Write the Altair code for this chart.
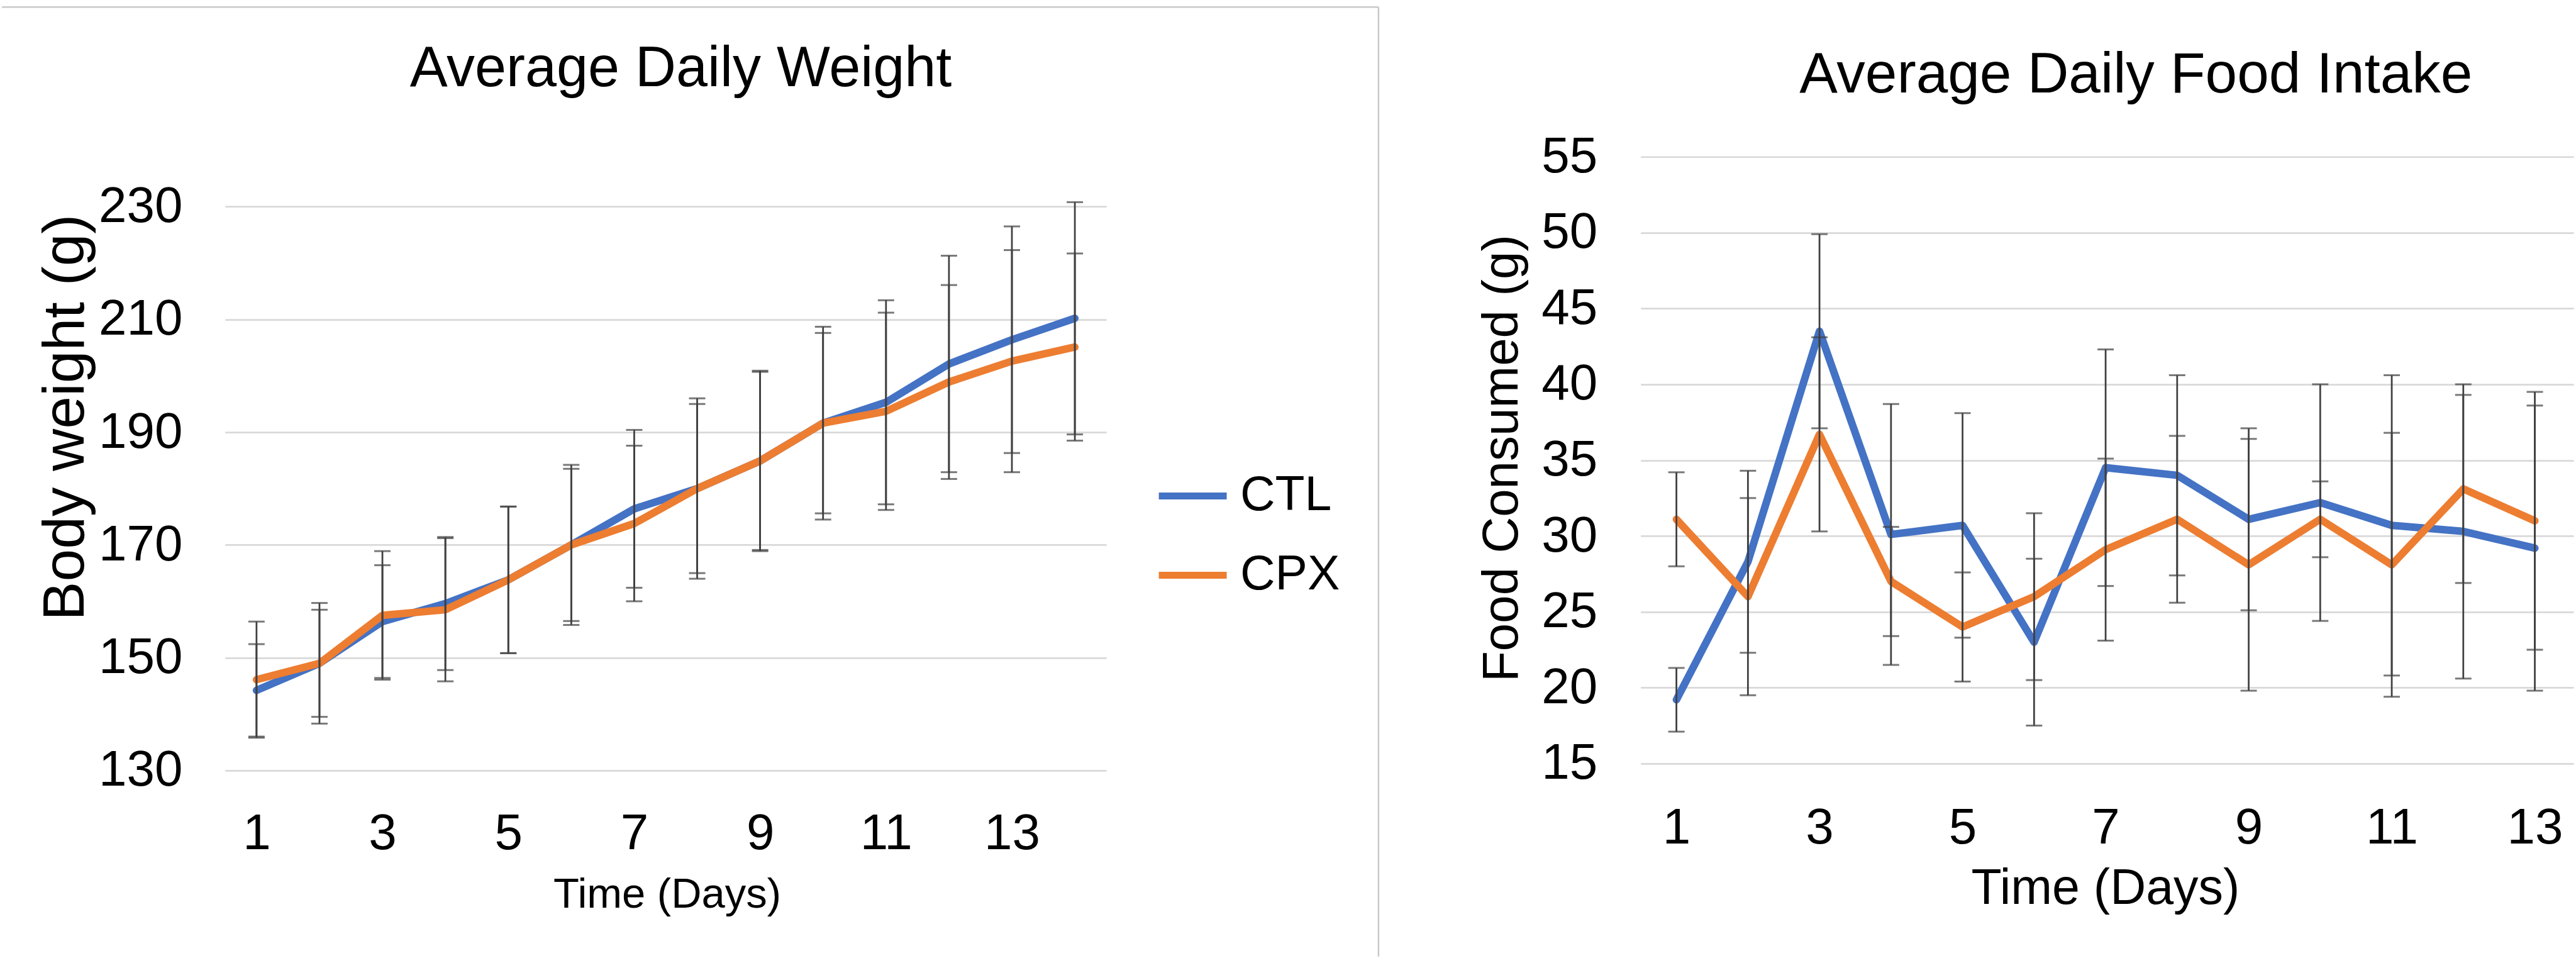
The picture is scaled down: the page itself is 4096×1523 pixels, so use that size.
import altair as alt
import pandas as pd

# ---------------- data ----------------
groups = ["CTL", "CPX"]

days_weight = list(range(1, 15))
ctl_weight = [144.2, 149.0, 156.4, 159.6, 163.8, 170.0, 176.4, 180.0, 184.9, 191.6, 195.3, 202.1, 206.4, 210.2]
cpx_weight = [146.1, 149.0, 157.5, 158.5, 163.8, 170.0, 173.8, 180.0, 184.9, 191.6, 193.7, 198.9, 202.6, 205.1]
ctl_weight_err = [8.2, 10.7, 10.0, 11.8, 13.0, 13.5, 14.0, 16.0, 16.0, 17.1, 18.1, 19.2, 20.1, 20.6]
cpx_weight_err = [10.3, 9.5, 11.4, 12.7, 13.0, 14.2, 13.8, 15.0, 15.8, 16.0, 17.5, 17.2, 19.7, 16.6]

days_food = list(range(1, 14))
ctl_food = [19.2, 28.3, 43.5, 30.1, 30.7, 23.0, 34.5, 34.0, 31.1, 32.2, 30.7, 30.3, 29.2]
cpx_food = [31.1, 26.0, 36.7, 27.0, 24.0, 26.0, 29.1, 31.1, 28.1, 31.1, 28.1, 33.1, 31.0]
ctl_food_err = [2.1, 6.0, 6.4, 8.6, 7.4, 5.5, 7.8, 6.6, 6.0, 7.8, 9.9, 9.7, 9.4]
cpx_food_err = [3.1, 6.5, 6.4, 3.6, 3.6, 5.5, 6.0, 5.5, 8.3, 2.5, 8.7, 6.2, 8.5]

weight_ticks = [130, 150, 170, 190, 210, 230]
food_ticks = [15, 20, 25, 30, 35, 40, 45, 50, 55]
day_ticks = [1, 3, 5, 7, 9, 11, 13]

title_weight = "Average Daily Weight"
title_food = "Average Daily Food Intake"

# ---------------- styling / layout ----------------
FONT = "Liberation Sans"
BLUE = "#4472C4"
ORANGE = "#ED7D31"
EB = "#404040"
GRID = "#d9d9d9"
BORDER = "#c9c9c9"

CANVAS_W, CANVAS_H = 4096, 1523
OX1, OY1 = 357, 248          # left plot origin on canvas
W1, H1 = 1402, 976
OX2 = 2609                   # right plot origin on canvas
W2, H2 = 1484, 965
SPACING = OX2 - (OX1 + W1)


def long_df(days, ctl, cpx, ctl_e, cpx_e):
    rows = []
    for g, m, e in (("CTL", ctl, ctl_e), ("CPX", cpx, cpx_e)):
        for d, v, err in zip(days, m, e):
            rows.append({"day": d, "group": g, "mean": v, "lo": v - err, "hi": v + err})
    return pd.DataFrame(rows)


wdf = long_df(days_weight, ctl_weight, cpx_weight, ctl_weight_err, cpx_weight_err)
fdf = long_df(days_food, ctl_food, cpx_food, ctl_food_err, cpx_food_err)
one = pd.DataFrame({"k": [0]})


def x_axis(title, title_size, title_x, title_y, label_pad):
    return alt.Axis(values=day_ticks, format="d", grid=False, domain=False, ticks=False,
                    labelFont=FONT, labelFontSize=80, labelColor="black", labelPadding=label_pad,
                    labelFlush=False, labelOverlap=False,
                    title=title, titleFont=FONT, titleFontSize=title_size, titleFontWeight="normal",
                    titleColor="black", titleBaseline="alphabetic", titleAlign="center",
                    titleX=title_x, titleY=title_y)


def y_axis(values, title, title_size, title_x, title_y, label_pad):
    return alt.Axis(values=values, grid=True, gridColor=GRID, gridWidth=2.75, domain=False, ticks=False,
                    labelFont=FONT, labelFontSize=80, labelColor="black", labelPadding=label_pad,
                    labelOverlap=False,
                    title=title, titleFont=FONT, titleFontSize=title_size, titleFontWeight="normal",
                    titleColor="black", titleAngle=270, titleBaseline="alphabetic", titleAlign="center",
                    titleX=title_x, titleY=title_y)


# ---------------- left panel ----------------
xs1 = alt.Scale(domain=[0.5, 14.5], nice=False, zero=False)
ys1 = alt.Scale(domain=[130, 238.85], nice=False, zero=False)
xa1 = x_axis("Time (Days)", 67, W1 / 2 + 2, 218, 62)
ya1 = y_axis(weight_ticks, "Body weight (g)", 93, -225, 414, 68)
X1 = alt.X("day:Q", scale=xs1, axis=xa1)

legend1 = alt.Legend(title=None, orient="none", legendX=1480, legendY=480, symbolType="stroke",
                     symbolSize=11664, symbolStrokeWidth=11, labelFont=FONT, labelFontSize=77,
                     labelColor="black", labelOffset=16, rowPadding=28, padding=0)
color1 = alt.Color("group:N", scale=alt.Scale(domain=groups, range=[BLUE, ORANGE]), legend=legend1)

anchor = alt.Chart(one).mark_rect(opacity=0).encode(
    x=alt.value(-OX1), x2=alt.value(CANVAS_W - OX1),
    y=alt.value(-OY1), y2=alt.value(CANVAS_H - OY1))
border_top = alt.Chart(one).mark_rule(color=BORDER, strokeWidth=2.5).encode(
    x=alt.value(2 - OX1), x2=alt.value(2192 - OX1), y=alt.value(10 - OY1))
border_right = alt.Chart(one).mark_rule(color=BORDER, strokeWidth=2.5).encode(
    x=alt.value(2192 - OX1), y=alt.value(10 - OY1), y2=alt.value(1520 - OY1))

base1 = alt.Chart(wdf)
lines1 = [
    base1.transform_filter(alt.datum.group == g).mark_line(strokeWidth=12, strokeJoin="round", strokeCap="round")
    .encode(x=X1, y=alt.Y("mean:Q", scale=ys1, axis=ya1), color=color1)
    for g in groups
]
rule1 = base1.mark_rule(color=EB, strokeWidth=2.75).encode(
    x=X1, y=alt.Y("lo:Q", scale=ys1, axis=ya1), y2="hi:Q")
caps1 = base1.transform_fold(["lo", "hi"], as_=["end", "val"]).mark_tick(
    color=EB, orient="horizontal", size=26, thickness=3).encode(
    x=X1, y=alt.Y("val:Q", scale=ys1, axis=ya1))
title1 = alt.Chart(pd.DataFrame({"t": [title_weight]})).mark_text(
    font=FONT, fontSize=90, align="center", baseline="alphabetic", color="black").encode(
    text="t:N", x=alt.value(725), y=alt.value(-112))

left = alt.layer(anchor, border_top, border_right, *lines1, rule1, caps1, title1).properties(
    width=W1, height=H1)

# ---------------- right panel ----------------
xs2 = alt.Scale(domain=[0.5, 0.5 + W2 / 113.8], nice=False, zero=False)
ys2 = alt.Scale(domain=[15, 55], nice=False, zero=False)
xa2 = x_axis("Time (Days)", 79, 739, 223, 64)
ya2 = y_axis(food_ticks, "Food Consumed (g)", 80, -196, 479, 69)
X2 = alt.X("day:Q", scale=xs2, axis=xa2)

base2 = alt.Chart(fdf)
lines2 = [
    base2.transform_filter(alt.datum.group == g).mark_line(strokeWidth=12, strokeJoin="round", strokeCap="round", color=c)
    .encode(x=X2, y=alt.Y("mean:Q", scale=ys2, axis=ya2))
    for g, c in zip(groups, [BLUE, ORANGE])
]
rule2 = base2.mark_rule(color=EB, strokeWidth=2.75).encode(
    x=X2, y=alt.Y("lo:Q", scale=ys2, axis=ya2), y2="hi:Q")
caps2 = base2.transform_fold(["lo", "hi"], as_=["end", "val"]).mark_tick(
    color=EB, orient="horizontal", size=26, thickness=3).encode(
    x=X2, y=alt.Y("val:Q", scale=ys2, axis=ya2))
title2 = alt.Chart(pd.DataFrame({"t": [title_food]})).mark_text(
    font=FONT, fontSize=91, align="center", baseline="alphabetic", color="black").encode(
    text="t:N", x=alt.value(788), y=alt.value(-102))

right = alt.layer(*lines2, rule2, caps2, title2).properties(width=W2, height=H2)

chart = alt.hconcat(left, right, spacing=SPACING, bounds="flush").resolve_scale(
    color="independent").properties(padding=0, background="white").configure_view(stroke="transparent")

chart.save("out.html", embed_options={"renderer": "svg", "actions": False})
